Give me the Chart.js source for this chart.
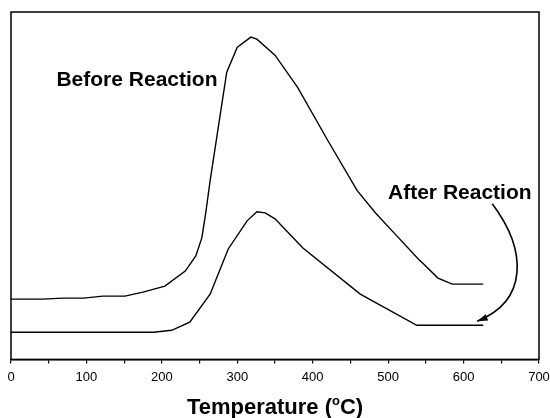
<!DOCTYPE html>
<html lang="en">
<head>
    <meta charset="UTF-8">
    <title>TPD profiles</title>
    <script src="https://cdn.jsdelivr.net/npm/chart.js"></script>
    <style>
        html, body { margin: 0; padding: 0; background: #fff; }
        #wrap { width: 550px; height: 418px; }
    </style>
</head>
<body>
<div id="wrap"><canvas id="tpdChart"></canvas></div>

<script>
    // values (signal in arbitrary units)
    const tempBefore = [0, 42, 69, 96, 122, 151, 175, 204, 231, 245, 253, 258, 264, 286, 300, 318, 326, 350, 380, 420, 459, 483, 509, 540, 547, 566, 585, 626];
    const signalBefore = [60, 60, 61, 61, 63, 63, 67, 73, 88, 103, 121, 145, 178, 286, 311, 321, 319, 303, 271, 218, 168, 146, 125, 100, 95, 81, 75, 75];

    const tempAfter = [0, 189, 213, 237, 264, 288, 313, 326, 337, 350, 387, 463, 538, 626];
    const signalAfter = [27, 27, 29, 37, 65, 110, 138, 147, 146, 140, 111, 65, 34, 34];

    const xTicksMajor = [0, 100, 200, 300, 400, 500, 600, 700];

    // text labels and the arrow, in data units
    const labels = [
        { text: 'Before Reaction', x: 167, y: 278 },
        { text: 'After Reaction', x: 595, y: 166 }
    ];
    const arrowPath = [[638, 155], [685, 108], [685, 58], [618, 38]];

    const FONT = "'Liberation Sans', Arial, Helvetica, sans-serif";

    function toPoints(xs, ys) {
        return xs.map((x, i) => ({ x: x, y: ys[i] }));
    }

    const annotate = {
        id: 'annotate',
        afterDraw(chart) {
            const ctx = chart.ctx;
            const xs = chart.scales.x, ys = chart.scales.y;
            const a = chart.chartArea;
            ctx.save();

            // frame
            ctx.strokeStyle = '#000';
            ctx.lineWidth = 1.5;
            ctx.strokeRect(a.left, a.top, a.right - a.left, a.bottom - a.top);

            // curve labels
            ctx.fillStyle = '#000';
            ctx.font = 'bold 21px ' + FONT;
            ctx.textAlign = 'center';
            ctx.textBaseline = 'middle';
            labels.forEach(l => {
                ctx.fillText(l.text, xs.getPixelForValue(l.x), ys.getPixelForValue(l.y));
            });

            // curved arrow
            const p = arrowPath.map(q => [xs.getPixelForValue(q[0]), ys.getPixelForValue(q[1])]);
            ctx.lineWidth = 1.6;
            ctx.beginPath();
            ctx.moveTo(p[0][0], p[0][1]);
            ctx.bezierCurveTo(p[1][0], p[1][1], p[2][0], p[2][1], p[3][0], p[3][1]);
            ctx.stroke();
            const ang = Math.atan2(p[3][1] - p[2][1], p[3][0] - p[2][0]);
            ctx.beginPath();
            ctx.moveTo(p[3][0], p[3][1]);
            ctx.lineTo(p[3][0] - 11 * Math.cos(ang - 0.3), p[3][1] - 11 * Math.sin(ang - 0.3));
            ctx.lineTo(p[3][0] - 11 * Math.cos(ang + 0.3), p[3][1] - 11 * Math.sin(ang + 0.3));
            ctx.closePath();
            ctx.fill();

            // x axis title with superscript o
            const cx = (a.left + a.right) / 2;
            const base = 414;
            const big = 'bold 22px ' + FONT, small = 'bold 13px ' + FONT;
            ctx.textAlign = 'left';
            ctx.textBaseline = 'alphabetic';
            ctx.font = big;
            const w1 = ctx.measureText('Temperature (').width;
            const w3 = ctx.measureText('C)').width;
            ctx.font = small;
            const w2 = ctx.measureText('o').width;
            let x0 = cx - (w1 + w2 + w3) / 2;
            ctx.font = big;
            ctx.fillText('Temperature (', x0, base);
            ctx.font = small;
            ctx.fillText('o', x0 + w1, base - 9);
            ctx.font = big;
            ctx.fillText('C)', x0 + w1 + w2, base);
            ctx.restore();
        }
    };

    const lineStyle = {
        borderColor: '#000',
        borderWidth: 1.4,
        pointRadius: 0,
        tension: 0,
        fill: false
    };

    new Chart(document.getElementById('tpdChart'), {
        type: 'line',
        data: {
            datasets: [
                Object.assign({ label: 'Before Reaction', data: toPoints(tempBefore, signalBefore) }, lineStyle),
                Object.assign({ label: 'After Reaction', data: toPoints(tempAfter, signalAfter) }, lineStyle)
            ]
        },
        options: {
            responsive: true,
            maintainAspectRatio: false,
            animation: false,
            layout: { padding: { left: 11, right: 11, top: 12, bottom: 27 } },
            plugins: {
                legend: { display: false },
                tooltip: { enabled: false }
            },
            scales: {
                x: {
                    type: 'linear',
                    min: 0,
                    max: 700,
                    // let the end labels hang over the edges, as in the original
                    afterFit: scale => { scale.paddingLeft = 0; scale.paddingRight = 0; },
                    grid: {
                        drawOnChartArea: false,
                        drawTicks: true,
                        tickLength: 4,
                        color: '#000',
                        lineWidth: 1.2
                    },
                    border: { display: true, color: '#000', width: 1.5 },
                    ticks: {
                        stepSize: 50,
                        autoSkip: false,
                        maxRotation: 0,
                        padding: 6,
                        color: '#000',
                        font: { family: FONT, size: 13 },
                        callback: v => xTicksMajor.includes(v) ? String(v) : ''
                    }
                },
                y: {
                    display: false,
                    min: 0,
                    max: 346
                }
            }
        },
        plugins: [annotate]
    });
</script>
</body>
</html>
